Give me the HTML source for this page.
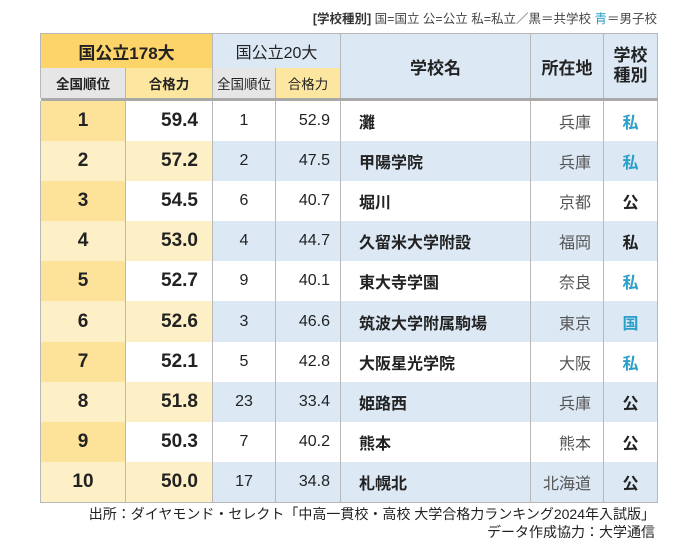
<!DOCTYPE html>
<html><head><meta charset="utf-8">
<style>
body{margin:0;width:700px;height:545px;background:#fff;font-family:"Liberation Sans","Noto Sans CJK JP",sans-serif;color:#222;position:relative;overflow:hidden}
#legend{position:absolute;right:43px;top:8px;font-size:12.5px;color:#444;white-space:nowrap}
#legend b{color:#333}
table{position:absolute;left:40px;top:33px;border-collapse:collapse;table-layout:fixed}
td{border-left:1px solid #b8b8b8;border-right:1px solid #b8b8b8;padding:0;text-align:center;white-space:nowrap;overflow:hidden}
.h1 td{height:34px}
.h2 td{height:30px;font-size:13.5px}
.sep td{height:3px;background:#a9a9a9;border:none}
.r td{height:40.1px}
.num{font-weight:600;font-size:19px}
.num2{font-size:16px}
.rt{text-align:right;padding-right:14px}
.rt2{text-align:right;padding-right:10px}
.nm{text-align:left;padding-left:18px;font-weight:bold;font-size:16px}
.loc{text-align:right;padding-right:12px;color:#555;font-size:16px}
.ty{font-weight:bold;font-size:16px}
.blue{color:#2b9fc9}
#foot{position:absolute;right:45px;top:506px;text-align:right;font-size:14px;line-height:17.5px;color:#222}
</style></head><body>
<div id="legend"><b>[学校種別]</b> 国=国立 公=公立 私=私立／黒＝共学校 <span class="blue">青</span>＝男子校</div>
<table id="tbl">
<colgroup><col style="width:85px"><col style="width:87px"><col style="width:63px"><col style="width:65px"><col style="width:190px"><col style="width:73px"><col style="width:54px"></colgroup>
<tr class="h1">
<td colspan="2" style="background:#fcd46a;font-weight:bold;font-size:17px;border-top:1px solid #b8b8b8">国公立178大</td>
<td colspan="2" style="background:#dce9f5;font-size:16px;border-top:1px solid #b8b8b8">国公立20大</td>
<td rowspan="2" style="background:#dce9f5;font-weight:bold;font-size:17px;border-top:1px solid #b8b8b8">学校名</td>
<td rowspan="2" style="background:#dce9f5;font-weight:bold;font-size:17px;border-top:1px solid #b8b8b8">所在地</td>
<td rowspan="2" style="background:#dce9f5;font-weight:bold;font-size:17px;line-height:20px;border-top:1px solid #b8b8b8">学校<br>種別</td>
</tr>
<tr class="h2">
<td style="background:#e6e6e6;font-weight:bold">全国順位</td>
<td style="background:#fde7a0;font-weight:bold">合格力</td>
<td style="background:#e6e6e6">全国順位</td>
<td style="background:#fde7a0">合格力</td>
</tr>
<tr class="sep"><td colspan="7"></td></tr>
</table>
<div id="foot">出所：ダイヤモンド・セレクト「中高一貫校・高校 大学合格力ランキング2024年入試版」<br>データ作成協力：大学通信</div>
<script>
const ranks=[1,2,3,4,5,6,7,8,9,10];
const scores=["59.4","57.2","54.5","53.0","52.7","52.6","52.1","51.8","50.3","50.0"];
const ranks20=[1,2,6,4,9,3,5,23,7,17];
const scores20=["52.9","47.5","40.7","44.7","40.1","46.6","42.8","33.4","40.2","34.8"];
const names=["灘","甲陽学院","堀川","久留米大学附設","東大寺学園","筑波大学附属駒場","大阪星光学院","姫路西","熊本","札幌北"];
const locs=["兵庫","兵庫","京都","福岡","奈良","東京","大阪","兵庫","熊本","北海道"];
const types=["私","私","公","私","私","国","私","公","公","公"];
const boys=[true,true,false,false,true,true,true,false,false,false];
const tbl=document.getElementById('tbl');
for(let i=0;i<ranks.length;i++){
  const even=i%2===1;
  const tr=document.createElement('tr');tr.className='r';
  
  
  const blue=even?'#dce9f5':'#fff';
  const cells=[
    [ranks[i],'num',even?'#fdf0c6':'#fde39a'],
    [scores[i],'num rt',even?'#fdf0c6':'#fff'],
    [ranks20[i],'num2',blue],
    [scores20[i],'num2 rt2',blue],
    [names[i],'nm',blue],
    [locs[i],'loc',blue],
    [types[i],'ty'+(boys[i]?' blue':''),blue]];
  const nms=['rank-178','score-178','rank-20','score-20','school-name','location','school-type'];
  cells.forEach((c,j)=>{
    const td=document.createElement('td');
    td.textContent=c[0];td.className=c[1];td.style.background=c[2];
    if(i===ranks.length-1)td.style.borderBottom='1px solid #b8b8b8';
    
    
    tr.appendChild(td);
  });
  tbl.appendChild(tr);
}
</script>
</body></html>
